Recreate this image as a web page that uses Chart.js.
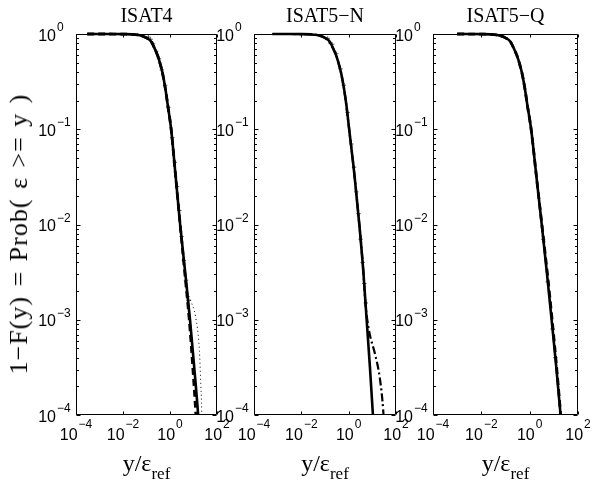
<!DOCTYPE html>
<html><head><meta charset="utf-8">
<script src="https://cdn.jsdelivr.net/npm/chart.js@4/dist/chart.umd.min.js"></script>
<style>
body{margin:0;background:#fff}
#wrap{position:relative;width:592px;height:486px;overflow:hidden;background:#fff}
canvas{position:absolute;left:0;top:0}
.t{position:absolute;font-family:"Liberation Serif","Times New Roman",serif;color:#000;white-space:nowrap;line-height:1}
.title{font-size:20px;top:5px;transform:translateX(-50%)}
.xl{font-size:24px;top:451px;transform:translateX(-50%)}
.xl sub{font-size:17px;position:relative;top:8px;vertical-align:baseline}
.yl{font-size:26px;letter-spacing:1px;word-spacing:2px;left:19px;top:234px;transform:translate(-50%,-50%) rotate(-90deg)}
</style></head><body>
<div id="wrap">
<canvas id="c0" width="592" height="486"></canvas>
<canvas id="c1" width="592" height="486"></canvas>
<canvas id="c2" width="592" height="486"></canvas>
<div class="t title" style="left:146.5px">ISAT4</div>
<div class="t title" style="left:325px">ISAT5−N</div>
<div class="t title" style="left:505.5px">ISAT5−Q</div>
<div class="t xl" style="left:146.5px">y/ε<sub>ref</sub></div>
<div class="t xl" style="left:325px">y/ε<sub>ref</sub></div>
<div class="t xl" style="left:505.5px">y/ε<sub>ref</sub></div>
<div class="t yl">1−F(y) = Prob( ε &gt;= y )</div>
</div>
<script>
// ---- tick labels (exponents of 10) ----
const yTickExps = [0, -1, -2, -3, -4];
const xTickExps = [-4, -2, 0, 2];

// ---- ISAT4 ----
const isat4SolidX = [3e-4, 1e-3, 4e-3, 0.01, 0.025, 0.04, 0.06, 0.1, 0.16, 0.23, 0.3, 0.37, 0.48, 0.63, 0.8, 1.12, 1.74, 2.7, 4.4, 7.1, 10.7, 15.8, 21];
const isat4SolidY = [1, 1, 0.999, 0.997, 0.99, 0.98, 0.96, 0.91, 0.83, 0.69, 0.59, 0.5, 0.39, 0.27, 0.18, 0.1, 0.032, 0.01, 3.2e-3, 1e-3, 3.2e-4, 1e-4, 3.5e-5];
const isat4DashX = [3e-4, 1e-3, 4e-3, 0.01, 0.025, 0.04, 0.06, 0.1, 0.16, 0.23, 0.3, 0.37, 0.48, 0.63, 0.8, 1.12, 1.74, 2.7, 4.2, 6.6, 9.3, 12.6, 15];
const isat4DashY = [1, 1, 0.999, 0.997, 0.99, 0.98, 0.96, 0.91, 0.83, 0.69, 0.59, 0.5, 0.39, 0.27, 0.18, 0.1, 0.032, 0.01, 3.2e-3, 1e-3, 3.2e-4, 1e-4, 4e-5];
const isat4DotX = [3e-4, 1e-3, 0.01, 0.04, 0.1, 0.23, 0.37, 0.63, 1.12, 1.74, 2.7, 4.4, 5.6, 7.5, 12.3, 17.8, 20.4, 22.4, 23.4];
const isat4DotY = [1, 1, 0.997, 0.98, 0.91, 0.69, 0.5, 0.27, 0.1, 0.032, 0.01, 3.2e-3, 2e-3, 1.6e-3, 1.07e-3, 4.8e-4, 2.1e-4, 1.1e-4, 6e-5];
const isat4MarkX = [0.12, 0.15, 0.19, 0.26, 0.34, 0.45, 0.62, 0.85, 1.25, 1.6, 2.0, 2.5, 3.1, 3.9, 4.8, 6.2];
const isat4MarkY = [0.93, 0.88, 0.79, 0.66, 0.55, 0.42, 0.29, 0.17, 0.082, 0.045, 0.025, 0.014, 7.5e-3, 4.2e-3, 2.6e-3, 1.6e-3];

// ---- ISAT5-N ----
const isat5nSolidX = [6e-4, 1e-3, 4e-3, 0.01, 0.025, 0.04, 0.06, 0.1, 0.16, 0.23, 0.3, 0.37, 0.48, 0.63, 0.8, 1.05, 1.78, 2.82, 4.17, 5.75, 7.9, 10.6, 12.5];
const isat5nSolidY = [1, 1, 0.999, 0.997, 0.99, 0.98, 0.96, 0.91, 0.83, 0.69, 0.59, 0.5, 0.39, 0.27, 0.18, 0.1, 0.032, 0.01, 3.2e-3, 1e-3, 3.2e-4, 1e-4, 5e-5];
const isat5nDashDotX = [6e-4, 1e-3, 0.01, 0.04, 0.1, 0.23, 0.37, 0.63, 1.05, 1.78, 2.82, 4.17, 5.2, 6.3, 8.0, 12.9, 20.9, 28.8, 32];
const isat5nDashDotY = [1, 1, 0.997, 0.98, 0.91, 0.69, 0.5, 0.27, 0.1, 0.032, 0.01, 3.2e-3, 1.4e-3, 9.5e-4, 6.8e-4, 4.4e-4, 2.4e-4, 1.12e-4, 7e-5];
const isat5nMarkX = [0.13, 0.2, 0.3, 0.45, 0.62, 0.9, 1.3, 1.7, 2.1, 2.6, 3.2, 3.9, 4.6, 5.3];
const isat5nMarkY = [0.9, 0.78, 0.62, 0.43, 0.29, 0.15, 0.07, 0.04, 0.022, 0.013, 7e-3, 4e-3, 2.4e-3, 1.5e-3];

// ---- ISAT5-Q ----
const isat5qSolidX = [1e-3, 4e-3, 0.01, 0.025, 0.04, 0.06, 0.1, 0.16, 0.23, 0.3, 0.37, 0.48, 0.63, 0.8, 1.15, 1.9, 3.16, 5.1, 8.1, 12.6, 19, 24];
const isat5qSolidY = [1, 0.999, 0.997, 0.99, 0.98, 0.96, 0.91, 0.83, 0.69, 0.59, 0.5, 0.39, 0.27, 0.18, 0.1, 0.032, 0.01, 3.2e-3, 1e-3, 3.2e-4, 1e-4, 5e-5];
const isat5qDashX = [1e-3, 4e-3, 0.01, 0.025, 0.04, 0.06, 0.1, 0.16, 0.23, 0.3, 0.37, 0.48, 0.63, 0.8, 1.15, 1.9, 3.2, 5.3, 8.5, 13, 19.3, 24];
const isat5qDashY = [1, 0.999, 0.997, 0.99, 0.98, 0.96, 0.91, 0.83, 0.69, 0.59, 0.5, 0.39, 0.27, 0.18, 0.1, 0.032, 0.01, 3.2e-3, 1e-3, 3.2e-4, 1e-4, 5e-5];
const isat5qMarkX = [3.6, 5.6, 8.8, 11.5];
const isat5qMarkY = [7e-3, 2.5e-3, 8e-4, 4e-4];

const panelBoxes = [[76, 217], [254, 396], [433, 578]];
const plotTop = 34, plotBottom = 415;

function pts(xs, ys) { return xs.map((x, i) => ({x: x, y: ys[i]})); }
function fmtExp(e) { return e < 0 ? '\u2212' + (-e) : String(e); }

const matlabAxes = {
  id: 'matlabAxes',
  afterDraw(chart) {
    const ctx = chart.ctx, a = chart.chartArea, xs = chart.scales.x, ys = chart.scales.y;
    ctx.save();
    ctx.strokeStyle = '#000'; ctx.lineWidth = 1;
    const L = Math.round(a.left) + 0.5, R = Math.round(a.right) - 0.5, T = Math.round(a.top) + 0.5, B = Math.round(a.bottom) - 0.5;
    ctx.beginPath();
    ctx.rect(L, T, R - L, B - T);
    for (let k = -4; k <= 0; k++) {
      const py = Math.round(ys.getPixelForValue(Math.pow(10, k))) + 0.5;
      ctx.moveTo(L, py); ctx.lineTo(L + 4, py);
      ctx.moveTo(R, py); ctx.lineTo(R - 4, py);
      if (k < 0) {
        for (let m = 2; m <= 9; m++) {
          const p = Math.round(ys.getPixelForValue(m * Math.pow(10, k))) + 0.5;
          ctx.moveTo(L, p); ctx.lineTo(L + 2.5, p);
          ctx.moveTo(R, p); ctx.lineTo(R - 2.5, p);
        }
      }
    }
    xTickExps.forEach(e => {
      const px = Math.round(xs.getPixelForValue(Math.pow(10, e))) + 0.5;
      ctx.moveTo(px, B); ctx.lineTo(px, B - 3);
      ctx.moveTo(px, T); ctx.lineTo(px, T + 3);
    });
    ctx.stroke();
    ctx.fillStyle = '#000';
    const big = '16px "Liberation Sans", Arial, sans-serif', small = '12px "Liberation Sans", Arial, sans-serif';
    yTickExps.forEach(e => {
      const py = ys.getPixelForValue(Math.pow(10, e));
      ctx.font = big; ctx.textAlign = 'right'; ctx.textBaseline = 'alphabetic';
      const xr = a.left - 20;
      ctx.fillText('10', xr, py + 6.5);
      ctx.font = small; ctx.textAlign = 'left';
      ctx.fillText(fmtExp(e), xr + 1, py - 3);
    });
    xTickExps.forEach(e => {
      const px = xs.getPixelForValue(Math.pow(10, e));
      ctx.font = big; const w1 = ctx.measureText('10').width;
      ctx.font = small; const w2 = ctx.measureText(fmtExp(e)).width;
      const x0 = px - (w1 + 1 + w2) / 2;
      ctx.textAlign = 'left'; ctx.textBaseline = 'alphabetic';
      ctx.font = big; ctx.fillText('10', x0, 440);
      ctx.font = small; ctx.fillText(fmtExp(e), x0 + w1 + 1, 428);
    });
    ctx.restore();
  }
};

function lineDs(data, width, dash) {
  return {data: data, borderColor: '#000', borderWidth: width, borderDash: dash, pointRadius: 0,
    fill: false, showLine: true, cubicInterpolationMode: 'monotone', clip: {left: 0, right: 0, top: 2, bottom: 0}};
}
function markDs(data) {
  return {data: data, borderColor: '#333', backgroundColor: '#333', pointStyle: 'cross', pointRadius: 2.2,
    pointBorderWidth: 0.8, showLine: false, clip: 0};
}

const panels = [
  [lineDs(pts(isat4DotX, isat4DotY), 1, [1, 3]), lineDs(pts(isat4DashX, isat4DashY), 2.8, [7, 4]),
   lineDs(pts(isat4SolidX, isat4SolidY), 2.6, []), markDs(pts(isat4MarkX, isat4MarkY))],
  [lineDs(pts(isat5nDashDotX, isat5nDashDotY), 2.2, [8, 3, 2, 3]),
   lineDs(pts(isat5nSolidX, isat5nSolidY), 2.6, []), markDs(pts(isat5nMarkX, isat5nMarkY))],
  [lineDs(pts(isat5qDashX, isat5qDashY), 2.8, [7, 4]),
   lineDs(pts(isat5qSolidX, isat5qSolidY), 2.6, []), markDs(pts(isat5qMarkX, isat5qMarkY))]
];

panels.forEach((datasets, i) => {
  const [l, r] = panelBoxes[i];
  new Chart(document.getElementById('c' + i), {
    type: 'scatter',
    data: {datasets: datasets},
    options: {
      responsive: false, animation: false, devicePixelRatio: 1, events: [],
      layout: {padding: {left: l, right: 592 - r, top: plotTop, bottom: 486 - plotBottom}},
      plugins: {legend: {display: false}, tooltip: {enabled: false}, title: {display: false}},
      scales: {
        x: {type: 'logarithmic', min: 1e-4, max: 1e2, display: false},
        y: {type: 'logarithmic', min: 1e-4, max: 1, display: false}
      }
    },
    plugins: [matlabAxes]
  });
});
</script>
</body></html>
